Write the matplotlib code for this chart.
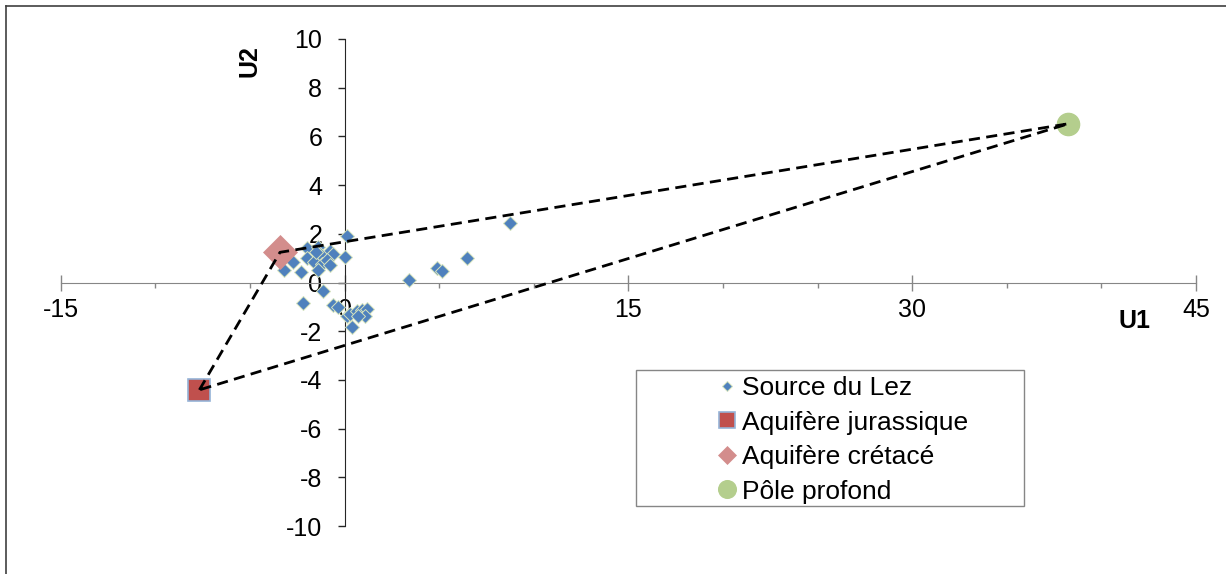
import numpy as np
import matplotlib
matplotlib.use("Agg")
import matplotlib.pyplot as plt
from matplotlib.patches import Rectangle
from matplotlib.lines import Line2D

plt.rcParams['font.family'] = ['Liberation Sans', 'DejaVu Sans']
plt.rcParams['axes.unicode_minus'] = False

# Source du Lez samples (U1, U2)
lez_u1 = [0.15, -2.0, -1.38, -0.77, -0.59, 0.03, -1.97, -1.29, -1.6, -1.2,
          -0.94, -0.75, -2.74, -3.18, -2.3, -1.38, -1.15, -2.2, -0.59, -0.36,
          0.11, 0.3, 0.64, 0.91, 1.17, 1.08, 0.73, 0.38, 3.43, 4.87,
          5.14, 6.46, 8.75, -1.5]
lez_u2 = [1.93, 1.40, 1.45, 1.29, 1.15, 1.06, 1.0, 1.15, 0.83, 0.75,
          0.92, 0.70, 0.83, 0.52, 0.43, 0.52, -0.36, -0.84, -0.92, -1.02,
          -1.36, -1.28, -1.18, -1.12, -1.08, -1.36, -1.36, -1.81, 0.11, 0.59,
          0.49, 1.0, 2.44, 1.25]

# end members
jur_u1, jur_u2 = [-7.67], [-4.41]
cre_u1, cre_u2 = [-3.41], [1.24]
pole_u1, pole_u2 = [38.26], [6.52]

labels = ['Source du Lez', 'Aquifère jurassique', 'Aquifère crétacé', 'Pôle profond']

W, H = 1226, 574
fig = plt.figure(figsize=(W / 100, H / 100), dpi=100)
ax = fig.add_axes([60.7 / W, 48 / H, (1196 - 60.7) / W, (526 - 39) / H])

h1, = ax.plot(lez_u1, lez_u2, 'D', ms=6.8, mfc='#4F81BD', mec='#D7E4BD', mew=0.7,
              ls='none', zorder=3)
h2, = ax.plot(jur_u1, jur_u2, 's', ms=16, mfc='#C0504D', mec='#95B3D7', mew=1.2,
              ls='none', zorder=3)
h3, = ax.plot(cre_u1, cre_u2, 'D', ms=17, mfc='#D38D8C', mec='#D38D8C', mew=0.5,
              ls='none', zorder=3)
h4, = ax.plot(pole_u1, pole_u2, 'o', ms=16, mfc='#B4CE8D', mec='#B4CE8D',
              ls='none', zorder=3)

# mixing triangle
tri_u1 = [jur_u1[0], cre_u1[0], pole_u1[0], jur_u1[0]]
tri_u2 = [jur_u2[0], cre_u2[0], pole_u2[0], jur_u2[0]]
ax.plot(tri_u1, tri_u2, color='black', lw=2.0, ls=(0, (4, 2.3)), zorder=5)

ax.set_xlim(-15, 45)
ax.set_ylim(-10, 10)
ax.spines['left'].set_position(('data', 0))
ax.spines['bottom'].set_position(('data', 0))
ax.spines['top'].set_visible(False)
ax.spines['right'].set_visible(False)
ax.spines['bottom'].set_color('#868686')
ax.spines['left'].set_color('#262626')
ax.patch.set_visible(False)

ax.set_xticks([-15, 0, 15, 30, 45])
ax.set_xticks(np.arange(-15, 46, 5), minor=True)
ax.set_yticks(np.arange(-10, 11, 2))
ax.tick_params(axis='x', which='major', direction='inout', length=11.5, width=1,
               color='#868686', labelsize=18, pad=5.5)
ax.tick_params(axis='x', which='minor', direction='out', length=3.6, width=1,
               color='#868686')
ax.tick_params(axis='y', which='major', direction='out', length=5, width=1,
               color='#262626', labelsize=18, pad=11)

fig.text(249 / W, 1 - 61 / H, 'U2', rotation=90, fontsize=18, fontweight='bold',
         ha='center', va='center')
fig.text(1134 / W, 1 - 321 / H, 'U1', fontsize=18, fontweight='bold',
         ha='center', va='center')

# legend box (Excel style, wider than its content)
fig.patches.append(Rectangle((636 / W, 1 - 506 / H), (1024 - 636) / W, (506 - 370) / H,
                             transform=fig.transFigure, fill=False,
                             edgecolor='#868686', lw=1))
leg = ax.legend([h1, h2, h3, h4], labels, loc='upper left',
                bbox_to_anchor=(717 / W, 1 - 376 / H), bbox_transform=fig.transFigure,
                frameon=False, fontsize=19, borderpad=0, handlelength=0.76,
                handletextpad=0.2, labelspacing=0.4, borderaxespad=0)
for hd, ms in zip(leg.legend_handles, [4.7, 12, 9.4, 12.7]):
    hd.set_markersize(ms)

# outer frame (only top and left edges visible)
fig.add_artist(Line2D([6 / W, 6 / W], [0, 1 - 6 / H], transform=fig.transFigure,
                      color='#404040', lw=1.2))
fig.add_artist(Line2D([6 / W, 1], [1 - 6 / H, 1 - 6 / H], transform=fig.transFigure,
                      color='#404040', lw=1.2))

fig.savefig('out.png', dpi=100)
